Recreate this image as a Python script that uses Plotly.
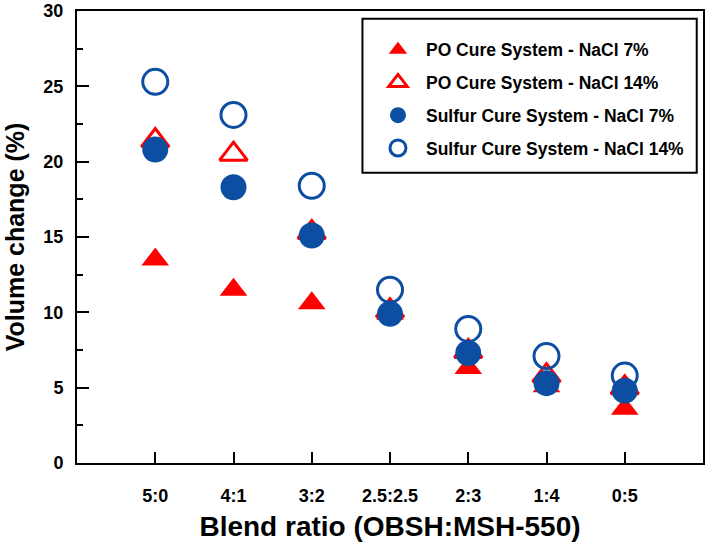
import plotly.graph_objects as go

# ---- data ----
blend_labels = ["5:0", "4:1", "3:2", "2.5:2.5", "2:3", "1:4", "0:5"]
blend_pos = [1, 2, 3, 4, 5, 6, 7]
po_nacl7 = [13.5, 11.5, 10.6, 9.9, 6.3, 5.1, 3.6]
po_nacl14 = [21.4, 20.5, 15.3, 10.1, 7.4, 5.8, 5.0]
sulfur_nacl7 = [20.8, 18.3, 15.1, 9.9, 7.3, 5.3, 4.8]
sulfur_nacl14 = [25.3, 23.1, 18.4, 11.5, 8.9, 7.1, 5.8]

RED = "#FF0000"
BLUE = "#0B4EA2"
FONT = "Liberation Sans, Arial, sans-serif"

fig = go.Figure()
fig.add_trace(go.Scatter(
    x=blend_pos, y=po_nacl7, mode="markers", name="PO Cure System - NaCl 7%",
    legendgroup="a",
    marker=dict(symbol="triangle-up", size=24, color=RED, line=dict(width=0))))
fig.add_trace(go.Scatter(
    x=blend_pos, y=po_nacl14, mode="markers", name="PO Cure System - NaCl 14%",
    legendgroup="b",
    marker=dict(symbol="triangle-up-open", size=24, color=RED, line=dict(width=3, color=RED))))
fig.add_trace(go.Scatter(
    x=blend_pos, y=sulfur_nacl7, mode="markers", name="Sulfur Cure System - NaCl 7%",
    legendgroup="c",
    marker=dict(symbol="circle", size=26, color=BLUE, line=dict(width=0))))
fig.add_trace(go.Scatter(
    x=blend_pos, y=sulfur_nacl14, mode="markers", name="Sulfur Cure System - NaCl 14%",
    legendgroup="d",
    marker=dict(symbol="circle-open", size=25, color=BLUE, line=dict(width=3, color=BLUE))))

fig.update_layout(
    width=709, height=547,
    margin=dict(l=77, r=6, t=11, b=84, autoexpand=False),
    paper_bgcolor="white", plot_bgcolor="white",
    font=dict(family=FONT, color="black"),
    showlegend=True,
    legend=dict(
        x=0.468, y=0.954, xanchor="left", yanchor="top",
        bgcolor="rgba(0,0,0,0)", borderwidth=0,
        font=dict(family=FONT, size=17.5, color="black", weight="bold"),
        tracegroupgap=7, itemwidth=46,
    ),
    shapes=[dict(type="rect", xref="paper", yref="paper",
                 x0=0.456, x1=0.99, y0=0.642, y1=0.983,
                 line=dict(color="black", width=2), fillcolor="rgba(0,0,0,0)", layer="below")],
)

fig.update_xaxes(
    range=[0, 8], tickvals=blend_pos, ticktext=blend_labels,
    ticks="inside", ticklen=11, tickwidth=2, tickcolor="black",
    showline=True, linecolor="black", linewidth=2, mirror=True,
    showgrid=False, zeroline=False, automargin=False,
    tickfont=dict(family=FONT, size=18, color="black", weight="bold"),
    ticklabelstandoff=15,
    title=dict(text="Blend ratio (OBSH:MSH-550)", standoff=12,
               font=dict(family=FONT, size=28, color="black", weight="bold")),
)
fig.update_yaxes(
    range=[0, 30], dtick=5, tick0=0,
    ticks="inside", ticklen=12, tickwidth=2, tickcolor="black",
    minor=dict(dtick=2.5, ticks="inside", ticklen=6, tickwidth=2, tickcolor="black"),
    showline=True, linecolor="black", linewidth=2, mirror=True,
    showgrid=False, zeroline=False, automargin=False,
    tickfont=dict(family=FONT, size=18, color="black", weight="bold"),
    ticklabelstandoff=8,
    title=dict(text="Volume change (%)", standoff=12,
               font=dict(family=FONT, size=25, color="black", weight="bold")),
)

fig.write_html("out.html", config={"displayModeBar": False},
               post_script="document.body.style.margin='0';document.body.style.padding='0';")
